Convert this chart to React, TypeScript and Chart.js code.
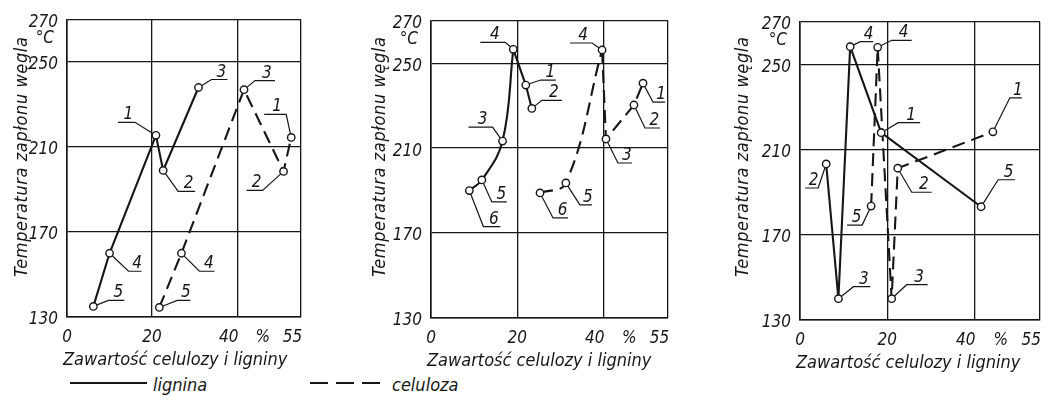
import React, { useEffect, useRef } from 'react';
import { Chart, registerables } from 'chart.js';

Chart.register(...registerables);

const FONT = "'Liberation Sans Narrow', 'DejaVu Sans Condensed', 'Roboto Condensed', sans-serif";
const INK = '#161616';

// ---- axes ----
const xMin = 0;
const xMax = 55;
const yMin = 130;
const yMax = 270;
const xGridTicks = [0, 20, 40, 55];
const yGridTicks = [130, 170, 210, 250, 270];
const yTickLabels = ['130', '170', '210', '250', '270'];
const xTickLabels = ['0', '20', '40', '%', '55'];
const xTickLabelPos = [0, 20, 38, 46, 53];
const yUnit = '°C';
const yTitle = 'Temperatura zapłonu węgla';
const xTitle = 'Zawartość celulozy i ligniny';
const legendLignina = 'lignina';
const legendCeluloza = 'celuloza';

// ---- panel 1 ----
const p1LigLbl = ['5', '4', '1', '2', '3'];
const p1LigX = [6.2, 10.0, 20.9, 22.6, 30.9];
const p1LigY = [135, 160, 215.5, 199, 238];
const p1CelLbl = ['5', '4', '3', '2', '1'];
const p1CelX = [21.7, 26.9, 41.6, 50.9, 52.7];
const p1CelY = [134.5, 160, 237, 198.5, 214.5];

// ---- panel 2 ----
const p2LigLbl = ['6', '5', '3', '4', '1', '2'];
const p2LigX = [8.9, 11.8, 16.6, 19.1, 22.0, 23.4];
const p2LigY = [190, 195, 213.3, 256.5, 239.7, 228.7];
const p2CelLbl = ['6', '5', '4', '3', '2', '1'];
const p2CelX = [25.3, 31.3, 39.7, 40.6, 47.1, 49.2];
const p2CelY = [188.9, 193.6, 256.2, 214.3, 230.3, 240.6];

// ---- panel 3 ----
const p3LigLbl = ['2', '3', '4', '1', '5'];
const p3LigX = [6.0, 8.8, 11.5, 18.6, 41.5];
const p3LigY = [203.3, 140, 258.4, 218, 183.2];
const p3CelLbl = ['5', '4', '3', '2', '1'];
const p3CelX = [16.3, 17.8, 21.0, 22.4, 44.2];
const p3CelY = [183.5, 258.1, 140, 201.3, 218.4];

// ---- callout styles: [dx, dy, direction, underline length] ----
const p1LigCall = [[15, -6, 1, 16], [19, 18, 1, 13], [-21, -13, -1, 17], [15, 21, 1, 17], [13, -8, 1, 16]];
const p1CelCall = [[18, -7, 1, 13], [18, 18, 1, 15], [11, -9, 1, 20], [-21, 19, -1, 16], [-5, -23, -1, 22]];
const p2LigCall = [[14, 36, 1, 17], [10, 22, 1, 15], [-10, -14, -1, 24], [-8, -7, -1, 25], [15, -5, 1, 15], [10, -8, 1, 20]];
const p2CelCall = [[13, 25, 1, 15], [14, 22, 1, 12], [-10, -7, -1, 22], [12, 24, 1, 14], [11, 23, 1, 15], [10, 19, 1, 12]];
const p3LigCall = [[-8, 24, -1, 13], [15, -12, 1, 17], [10, -5, 1, 13], [17, -10, 1, 22], [17, -27, 1, 17]];
const p3CelCall = [[-9, 19, -1, 15], [14, -7, 1, 20], [15, -14, 1, 21], [14, 24, 1, 20], [17, -34, 1, 12]];

type Series = {
  lbl: string[];
  x: number[];
  y: number[];
  dashed: boolean;
  curveEnd: number;
  call: number[][];
};

type PanelProps = {
  left: number;
  width: number;
  height: number;
  pad: { left: number; right: number; top: number; bottom: number };
  series: Series[];
  yTitleDx: number;
};

function buildDatasets(series: Series[]) {
  const lines: any[] = [];
  const points: any[] = [];
  series.forEach((s) => {
    const pts = s.x.map((x, i) => ({ x, y: s.y[i] }));
    const base = {
      showLine: true,
      borderColor: INK,
      borderWidth: 2.1,
      borderDash: s.dashed ? [13, 7] : [],
      pointRadius: 0,
      fill: false,
      order: 2,
      clip: false,
    };
    if (s.curveEnd > 0) {
      lines.push({ ...base, data: pts.slice(0, s.curveEnd + 1), tension: 0.4 });
      lines.push({ ...base, data: pts.slice(s.curveEnd), tension: 0 });
    } else {
      lines.push({ ...base, data: pts, tension: 0 });
    }
    points.push({
      data: pts,
      showLine: false,
      pointRadius: 3.7,
      pointBackgroundColor: '#ffffff',
      pointBorderColor: INK,
      pointBorderWidth: 1.4,
      order: 0,
      clip: false,
    });
  });
  return [...points, ...lines];
}

const textPlugin = {
  id: 'panelText',
  afterDraw(chart: any, _args: any, opts: any) {
    const { ctx, chartArea } = chart;
    const xs = chart.scales.x;
    const ys = chart.scales.y;
    ctx.save();
    ctx.fillStyle = INK;
    ctx.strokeStyle = INK;

    // y tick labels
    ctx.font = `italic 17px ${FONT}`;
    ctx.textAlign = 'right';
    ctx.textBaseline = 'middle';
    yGridTicks.forEach((v, i) => {
      const py = ys.getPixelForValue(v);
      ctx.fillText(yTickLabels[i], chartArea.left - 9, py + 3);
    });
    ctx.fillText(yUnit, chartArea.left - 13, ys.getPixelForValue(yMax) + 19);

    // x tick labels
    ctx.textAlign = 'center';
    xTickLabelPos.forEach((v, i) => {
      ctx.fillText(xTickLabels[i], xs.getPixelForValue(v), chartArea.bottom + 21);
    });

    // x title
    ctx.font = `italic 18px ${FONT}`;
    ctx.textAlign = 'left';
    ctx.fillText(xTitle, chartArea.left - 4, chartArea.bottom + 43);

    // y title
    ctx.save();
    ctx.translate(chartArea.left + opts.yTitleDx, 277);
    ctx.rotate(-Math.PI / 2);
    ctx.textAlign = 'left';
    try {
      ctx.letterSpacing = '0.6px';
    } catch (e) {
      /* ignore */
    }
    ctx.fillText(yTitle, 0, 0);
    ctx.restore();

    // callouts
    ctx.lineWidth = 1.2;
    ctx.font = `italic 17px ${FONT}`;
    ctx.textAlign = 'center';
    ctx.textBaseline = 'alphabetic';
    (opts.series as Series[]).forEach((s) => {
      s.x.forEach((xv, i) => {
        const px = xs.getPixelForValue(xv);
        const py = ys.getPixelForValue(s.y[i]);
        const [dx, dy, dir, len] = s.call[i];
        const d = Math.hypot(dx, dy) || 1;
        const sx = px + (dx / d) * 4;
        const sy = py + (dy / d) * 4;
        const ex = px + dx;
        const ey = py + dy;
        const ux = ex + dir * len;
        ctx.beginPath();
        ctx.moveTo(sx, sy);
        ctx.lineTo(ex, ey);
        ctx.lineTo(ux, ey);
        ctx.stroke();
        ctx.fillText(s.lbl[i], (ex + ux) / 2 + 2, ey - 3);
      });
    });
    ctx.restore();
  },
};

function Panel(props: PanelProps) {
  const ref = useRef<HTMLCanvasElement | null>(null);
  useEffect(() => {
    if (!ref.current) return;
    const chart = new Chart(ref.current, {
      type: 'scatter',
      data: { datasets: buildDatasets(props.series) },
      options: {
        animation: false,
        responsive: false,
        maintainAspectRatio: false,
        layout: { padding: props.pad, autoPadding: false },
        plugins: {
          legend: { display: false },
          tooltip: { enabled: false },
          panelText: { series: props.series, yTitleDx: props.yTitleDx },
        } as any,
        scales: {
          x: {
            type: 'linear',
            min: xMin,
            max: xMax,
            afterBuildTicks: (s: any) => {
              s.ticks = xGridTicks.map((v) => ({ value: v }));
            },
            afterFit: (s: any) => {
              s.height = 0;
            },
            ticks: { display: false },
            grid: { color: INK, lineWidth: 1.3, drawTicks: false },
            border: { color: INK, width: 1.6 },
          },
          y: {
            type: 'linear',
            min: yMin,
            max: yMax,
            afterBuildTicks: (s: any) => {
              s.ticks = yGridTicks.map((v) => ({ value: v }));
            },
            afterFit: (s: any) => {
              s.width = 0;
            },
            ticks: { display: false },
            grid: { color: INK, lineWidth: 1.3, drawTicks: false },
            border: { color: INK, width: 1.6 },
          },
        },
      },
      plugins: [textPlugin],
    });
    return () => chart.destroy();
  }, []);
  return (
    <canvas
      ref={ref}
      width={props.width}
      height={props.height}
      style={{ position: 'absolute', left: props.left, top: 0, width: props.width, height: props.height }}
    />
  );
}

const legendText: React.CSSProperties = {
  position: 'absolute',
  top: 374,
  fontFamily: FONT,
  fontStyle: 'italic',
  fontSize: 18,
  color: INK,
  lineHeight: '22px',
};

export default function App() {
  const H = 372;
  const s1: Series[] = [
    { lbl: p1LigLbl, x: p1LigX, y: p1LigY, dashed: false, curveEnd: 0, call: p1LigCall },
    { lbl: p1CelLbl, x: p1CelX, y: p1CelY, dashed: true, curveEnd: 0, call: p1CelCall },
  ];
  const s2: Series[] = [
    { lbl: p2LigLbl, x: p2LigX, y: p2LigY, dashed: false, curveEnd: 3, call: p2LigCall },
    { lbl: p2CelLbl, x: p2CelX, y: p2CelY, dashed: true, curveEnd: 2, call: p2CelCall },
  ];
  const s3: Series[] = [
    { lbl: p3LigLbl, x: p3LigX, y: p3LigY, dashed: false, curveEnd: 0, call: p3LigCall },
    { lbl: p3CelLbl, x: p3CelX, y: p3CelY, dashed: true, curveEnd: 0, call: p3CelCall },
  ];
  return (
    <div style={{ position: 'absolute', left: 0, top: 0, width: 1046, height: 407, background: '#fff', overflow: 'hidden' }}>
      <Panel left={0} width={330} height={H} pad={{ left: 67, right: 29, top: 19.5, bottom: H - 317 }} series={s1} yTitleDx={-45} />
      <Panel left={335} width={345} height={H} pad={{ left: 96, right: 12, top: 20.7, bottom: H - 318 }} series={s2} yTitleDx={-51} />
      <Panel left={690} width={356} height={H} pad={{ left: 110, right: 6, top: 22, bottom: H - 320 }} series={s3} yTitleDx={-57} />
      <div style={{ position: 'absolute', left: 70, top: 382, width: 77, borderTop: `2.5px solid ${INK}` }} />
      <div style={{ ...legendText, left: 153 }}>{legendLignina}</div>
      <div style={{ position: 'absolute', left: 310, top: 382, width: 18, borderTop: `2.5px solid ${INK}` }} />
      <div style={{ position: 'absolute', left: 336, top: 382, width: 18, borderTop: `2.5px solid ${INK}` }} />
      <div style={{ position: 'absolute', left: 362, top: 382, width: 18, borderTop: `2.5px solid ${INK}` }} />
      <div style={{ ...legendText, left: 392 }}>{legendCeluloza}</div>
    </div>
  );
}
